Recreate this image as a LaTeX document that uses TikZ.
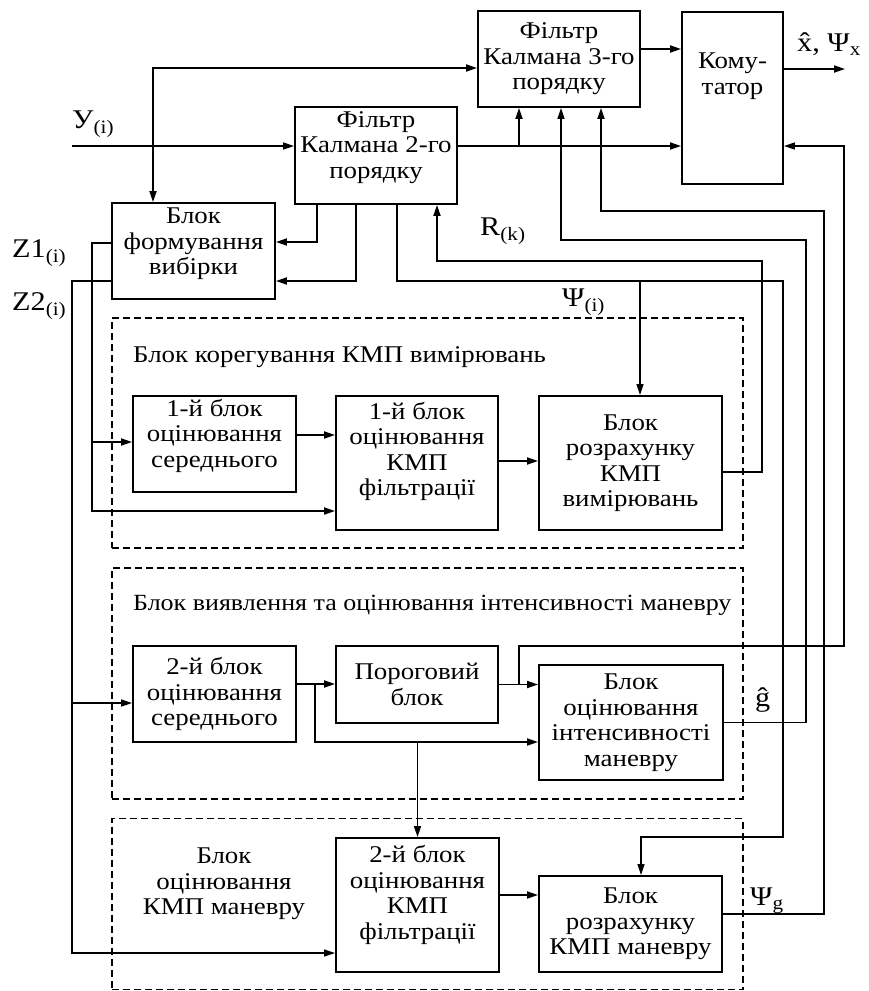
\documentclass[tikz,border=0pt]{standalone}
\usepackage{fontspec}
\setmainfont{Liberation Serif}[FakeStretch=1.12]
\usetikzlibrary{arrows.meta, positioning, calc}
\tikzset{
  %% -- processing block --
  KF/box/.style={
    draw, line width=1.9pt, align=center, inner sep=2pt,
    font=\fontsize{24}{25.5}\selectfont
  },
  %% -- shift text upwards inside a block --
  KF/lift/.style={text depth=#1},
  %% -- dashed group frame --
  KF/grp/.style={draw, line width=1.2pt, dash pattern=on 7pt off 4pt, inner sep=0pt},
  %% -- group title --
  KF/ttl/.style={font=\fontsize{24}{25.5}\selectfont, inner sep=0pt, align=center},
  %% -- signal labels --
  KF/lbl/.style={font=\fontsize{27}{30}\selectfont, inner sep=0pt},
  %% -- connectors --
  KF/arr/.style={-{Triangle[length=11pt,width=7pt]}, line width=1.8pt},
  KF/thin/.style={-{Triangle[length=11pt,width=7pt]}, line width=1.2pt},
  KF/both/.style={{Triangle[length=11pt,width=7pt]}-{Triangle[length=11pt,width=7pt]}, line width=1.8pt},
}
\begin{document}
\begin{tikzpicture}[x=1pt, y=-1pt]
\useasboundingbox (0,0) rectangle (868,991);

%% Filters, commutator, sampling block
\node[KF/box, minimum width=162pt, minimum height=96pt] (f3) at (559,59)
  {Фільтр\\Калмана 3-го\\порядку};
\node[KF/box, minimum width=101pt, minimum height=172pt, KF/lift=49pt] (kom) at (732.5,98)
  {Кому-\\татор};
\node[KF/box, minimum width=162pt, minimum height=97pt, KF/lift=21pt] (f2) at (376,155.5)
  {Фільтр\\Калмана 2-го\\порядку};
\node[KF/box, minimum width=163pt, minimum height=96pt, KF/lift=19pt] (bfv) at (193.5,251)
  {Блок\\формування\\вибірки};

%% Dashed groups
\node[KF/grp, minimum width=631pt, minimum height=230pt] (grp1) at (427.5,433) {};
\node[KF/grp, minimum width=631pt, minimum height=231pt] (grp2) at (427.5,683.5) {};
\node[KF/grp, minimum width=631pt, minimum height=171pt] (grp3) at (427.5,904) {};
\node[KF/ttl, anchor=west] (ttl1) at (133,357) {Блок корегування КМП вимірювань};
\node[KF/ttl, anchor=west, font=\fontsize{23.2}{25.5}\selectfont] (ttl2) at (133,605)
  {Блок виявлення та оцінювання інтенсивності маневру};
\node[KF/ttl] (ttl3) at (224,884) {Блок\\оцінювання\\КМП маневру};

%% Group 1
\node[KF/box, minimum width=163pt, minimum height=96pt, KF/lift=22pt] (m1) at (214.5,444)
  {1-й блок\\оцінювання\\середнього};
\node[KF/box, minimum width=162pt, minimum height=134pt, KF/lift=28pt] (kf1) at (417,463)
  {1-й блок\\оцінювання\\КМП\\фільтрації};
\node[KF/box, minimum width=183pt, minimum height=134pt] (brkv) at (630.5,463)
  {Блок\\розрахунку\\КМП\\вимірювань};

%% Group 2
\node[KF/box, minimum width=163pt, minimum height=96pt] (m2) at (214.5,694)
  {2-й блок\\оцінювання\\середнього};
\node[KF/box, minimum width=162pt, minimum height=77pt] (por) at (417,684.5)
  {Пороговий\\блок};
\node[KF/box, minimum width=184pt, minimum height=115pt] (boim) at (631,722.5)
  {Блок\\оцінювання\\інтенсивності\\маневру};

%% Group 3
\node[KF/box, minimum width=163pt, minimum height=134pt, KF/lift=25pt] (kf2) at (417.5,905)
  {2-й блок\\оцінювання\\КМП\\фільтрації};
\node[KF/box, minimum width=183pt, minimum height=96pt] (brkm) at (630.5,924)
  {Блок\\розрахунку\\КМП маневру};

%% Routing points
\coordinate (yin) at (72,146);
\coordinate (xout) at (845,69);
\coordinate (j1) at (519,146);
\coordinate (tl) at (153,68);
\coordinate (c1) at (317,242);
\coordinate (c2) at (356,281);
\coordinate (p1) at (397,281);
\coordinate (p2) at (640,281);
\coordinate (p3) at (783,281);
\coordinate (p4) at (783,837);
\coordinate (p5) at (641,837);
\coordinate (r1) at (762,261);
\coordinate (r2) at (437,261);
\coordinate (g1) at (806,240);
\coordinate (g2) at (561,240);
\coordinate (s1) at (824,211);
\coordinate (s2) at (601,211);
\coordinate (h1) at (519,684);
\coordinate (h2) at (519,646);
\coordinate (h3) at (844,646);
\coordinate (h4) at (844,146);
\coordinate (b1) at (315,684);
\coordinate (b2) at (315,742);
\coordinate (z1m) at (92,442);
\coordinate (z1) at (92,511);
\coordinate (z2m) at (72,703);
\coordinate (z2) at (72,953);

%% Input, filters -> commutator
\draw[KF/thin] (yin) -- (yin -| f2.west);
\draw[KF/arr] (f2.east |- j1) -- (j1 -| kom.west);
\draw[KF/arr] (j1) -- (j1 |- f3.south);
\draw[KF/arr] ([yshift=10pt]f3.east) -- ([yshift=10pt]f3.east -| kom.west);
\draw[KF/arr] (kom.east |- xout) -- (xout);
\draw[KF/both] (tl |- bfv.north) -- (tl) -- (tl -| f3.west);

%% Filter 2 -> sampling block
\draw[KF/arr] (c1 |- f2.south) -- (c1) -- (c1 -| bfv.east);
\draw[KF/arr] (c2 |- f2.south) -- (c2) -- (c2 -| bfv.east);

%% Psi(i) to both covariance blocks
\draw[KF/thin] (p1 |- f2.south) -- (p1) -- (p2) -- (p2 |- brkv.north);
\draw[KF/thin] (p2) -- (p3) -- (p4) -- (p5) -- (p5 |- brkm.north);

%% Feedback R(k), g, Psi_g
\draw[KF/arr] ([yshift=-9pt]brkv.east) -| (r1) -- (r2) -- (r2 |- f2.south);
\draw[KF/thin] (boim.east) -| (g1) -- (g2) -- (g2 |- f3.south);
\draw[KF/arr] ([yshift=10pt]brkm.east) -| (s1) -- (s2) -- (s2 |- f3.south);

%% Samples Z1, Z2
\draw[KF/arr] ([yshift=8pt]bfv.west) -| (z1) -- (z1 -| kf1.west);
\draw[KF/arr] (z1m) -- (z1m -| m1.west);
\draw[KF/thin] ([yshift=-30pt]bfv.west) -| (z2) -- (z2 -| kf2.west);
\draw[KF/thin] (z2m) -- (z2m -| m2.west);

%% Inside the groups
\draw[KF/arr] ([yshift=9pt]m1.east) -- ([yshift=9pt]m1.east -| kf1.west);
\draw[KF/arr] ([yshift=2pt]kf1.east) -- ([yshift=2pt]kf1.east -| brkv.west);
\draw[KF/arr] (b1 -| m2.east) -- (b1 -| por.west);
\draw[KF/arr] (por.east) -- (por.east -| boim.west);
\draw[KF/arr] (b1) -- (b2) -- (b2 -| boim.west);
\draw[KF/thin] (b2 -| kf2.north) -- (kf2.north);
\draw[KF/thin] (h1) -- (h2) -- (h3) -- (h4) -- (h4 -| kom.east);
\draw[KF/arr] ([yshift=10pt]kf2.east) -- ([yshift=10pt]kf2.east -| brkm.west);

%% Signal labels
\node[KF/lbl, anchor=west] (ylbl) at (72,124) {У\textsubscript{(i)}};
\node[KF/lbl, anchor=west] (z1lbl) at (12,253) {Z1\textsubscript{(i)}};
\node[KF/lbl, anchor=west] (z2lbl) at (12,306) {Z2\textsubscript{(i)}};
\node[KF/lbl, anchor=west] (rlbl) at (480,231) {R\textsubscript{(k)}};
\node[KF/lbl, anchor=west] (psii) at (562,302) {Ψ\textsubscript{(i)}};
\node[KF/lbl, anchor=west] (glbl) at (755,700) {ĝ};
\node[KF/lbl, anchor=west] (psig) at (750,901) {Ψ\textsubscript{g}};
\node[KF/lbl, anchor=west] (xlbl) at (797,44) {x̂, Ψ\textsubscript{x}};
\end{tikzpicture}
\end{document}
